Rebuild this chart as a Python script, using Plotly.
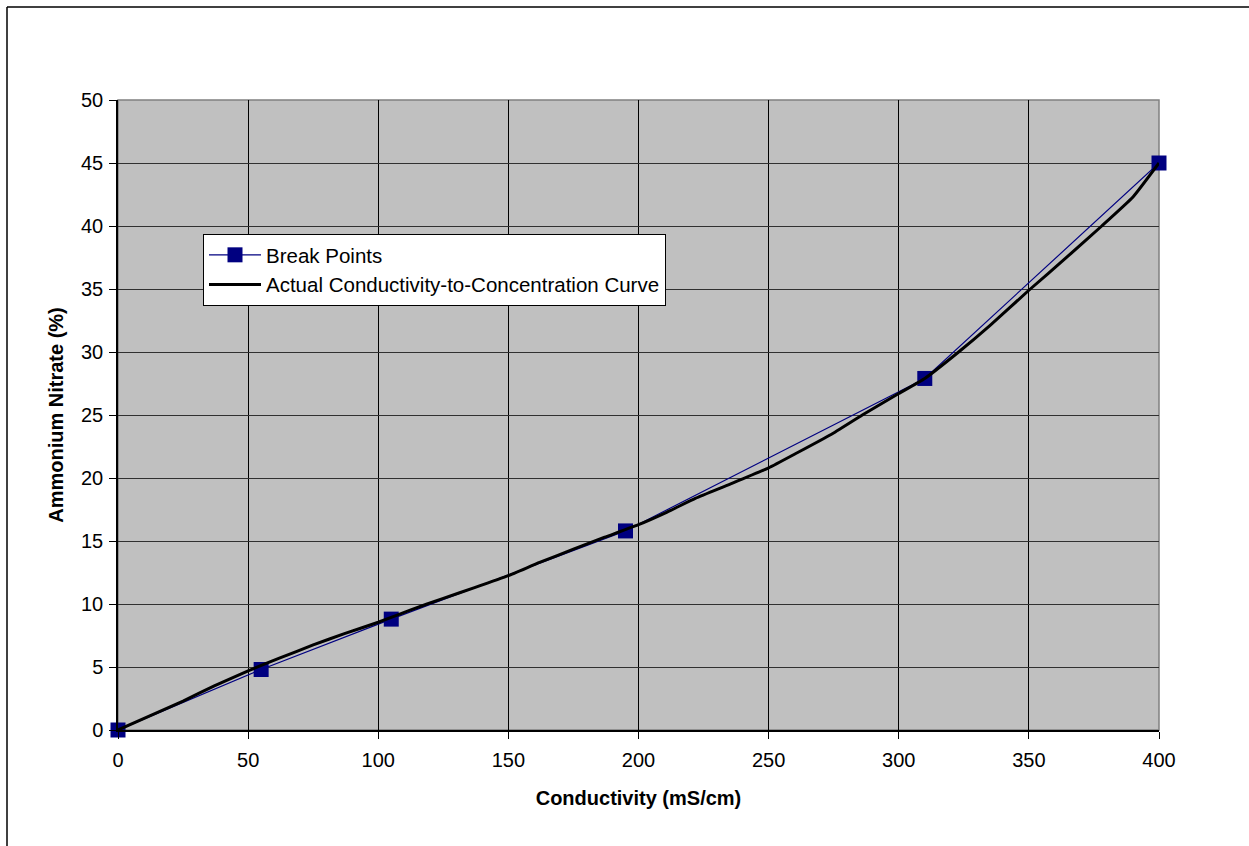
import plotly.graph_objects as go

# Break points
bp_x = [0, 55, 105, 195, 310, 400]
bp_y = [0, 4.8, 8.8, 15.8, 27.9, 45]

# Actual conductivity-to-concentration curve
curve_x = [0, 12, 25, 37, 50, 62, 75, 87, 100, 112, 125, 137, 150, 162, 175, 187,
           200, 211, 222, 235, 250, 261, 274, 286, 300, 310, 323, 335, 350, 365, 378, 390, 400]
curve_y = [0, 1.1, 2.3, 3.5, 4.7, 5.7, 6.75, 7.65, 8.55, 9.5, 10.45, 11.3, 12.25, 13.3, 14.35, 15.3,
           16.3, 17.3, 18.4, 19.5, 20.8, 22.0, 23.45, 25.0, 26.7, 27.9, 30.0, 32.1, 34.9, 37.6, 40.0, 42.3, 45.0]

x_ticks = [0, 50, 100, 150, 200, 250, 300, 350, 400]
y_ticks = [0, 5, 10, 15, 20, 25, 30, 35, 40, 45, 50]

FONT = "Liberation Sans, Arial, sans-serif"
FS = 20

fig = go.Figure()
fig.add_trace(go.Scatter(
    x=bp_x, y=bp_y, mode="lines+markers", name="Break Points",
    line=dict(color="#000080", width=1.2),
    marker=dict(symbol="square", size=15, color="#000080"),
    cliponaxis=False,
))
fig.add_trace(go.Scatter(
    x=curve_x, y=curve_y, mode="lines", name="Actual Conductivity-to-Concentration Curve",
    line=dict(color="#000000", width=3, shape="spline", smoothing=0.4),
    cliponaxis=False,
))

fig.update_layout(
    width=1249, height=846,
    margin=dict(l=118, r=90, t=100, b=116),
    paper_bgcolor="white",
    plot_bgcolor="#C0C0C0",
    font=dict(family=FONT, size=FS, color="black"),
    showlegend=True,
    legend=dict(
        x=(203 - 118) / 1041, y=(730 - 234) / 630, xanchor="left", yanchor="top",
        bgcolor="white", bordercolor="black", borderwidth=1,
        font=dict(family=FONT, size=20.5, color="black"),
        tracegroupgap=0, itemwidth=52,
    ),
    shapes=[
        dict(type="rect", xref="paper", yref="paper", x0=0, x1=1, y0=0, y1=1,
             line=dict(color="#808080", width=1.5), layer="below"),
        dict(type="line", xref="paper", yref="paper", x0=(7 - 118) / 1041, x1=(7 - 118) / 1041,
             y0=-0.2, y1=(730 - 7) / 630, line=dict(color="black", width=1.5)),
        dict(type="line", xref="paper", yref="paper", x0=(7 - 118) / 1041, x1=1.1,
             y0=(730 - 7) / 630, y1=(730 - 7) / 630, line=dict(color="black", width=1.5)),
    ],
)

fig.update_xaxes(
    range=[0, 400], tickvals=x_ticks, ticktext=[str(v) for v in x_ticks],
    showgrid=True, gridcolor="#000000", gridwidth=1,
    showline=True, linecolor="black", linewidth=1.5,
    ticks="outside", ticklen=7, tickcolor="black", tickwidth=1,
    ticklabelstandoff=4,
    zeroline=False,
    tickfont=dict(family=FONT, size=FS),
    title=dict(text="<b>Conductivity (mS/cm)</b>", font=dict(family=FONT, size=FS), standoff=21),
)
fig.update_yaxes(
    range=[0, 50], tickvals=y_ticks, ticktext=[str(v) for v in y_ticks],
    showgrid=True, gridcolor="#303030", gridwidth=1.3,
    showline=True, linecolor="black", linewidth=1.5,
    ticks="outside", ticklen=7, tickcolor="black", tickwidth=1,
    ticklabelstandoff=2,
    zeroline=False,
    tickfont=dict(family=FONT, size=FS),
    title=dict(text="<b>Ammonium Nitrate (%)</b>", font=dict(family=FONT, size=FS), standoff=12),
)

fig.write_html("out.html", config={"displayModeBar": False},
               post_script="document.body.style.margin='0';")
